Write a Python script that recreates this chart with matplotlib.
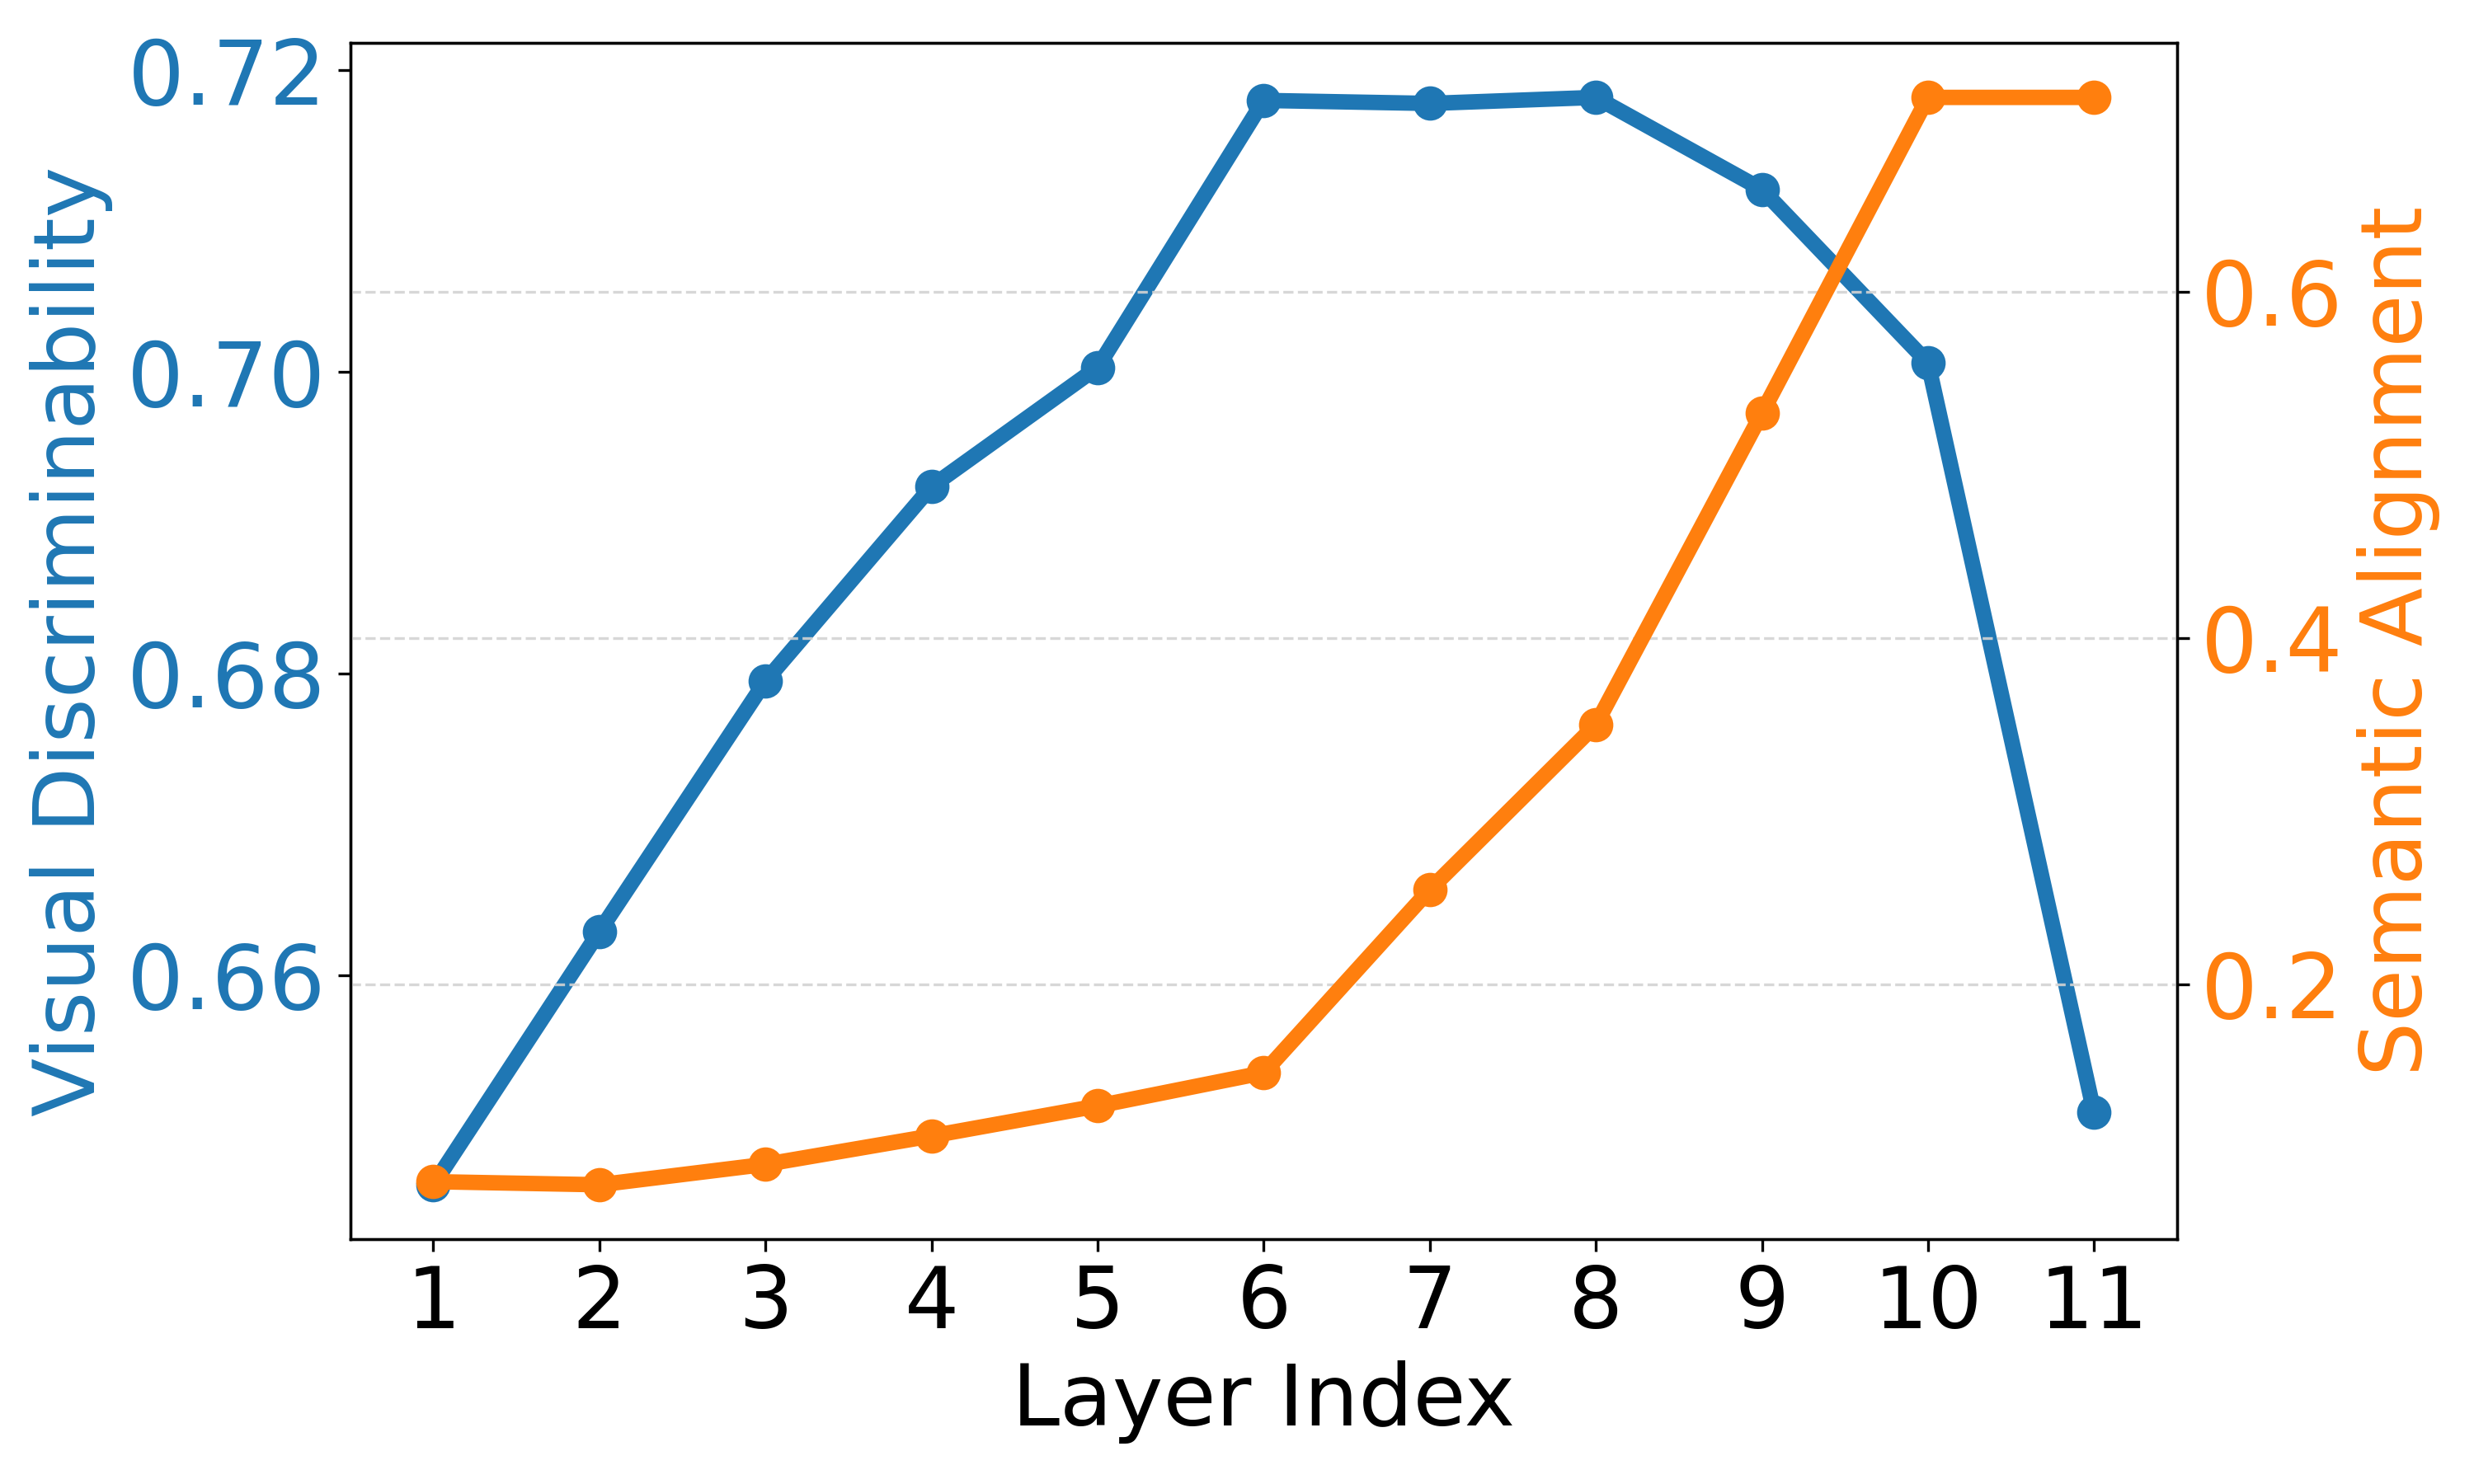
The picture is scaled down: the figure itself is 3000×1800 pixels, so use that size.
import matplotlib
matplotlib.use('Agg')
import matplotlib.pyplot as plt

layers = [1, 2, 3, 4, 5, 6, 7, 8, 9, 10, 11]
visual_disc = [0.6461, 0.6629, 0.6795, 0.6924, 0.7003, 0.7180, 0.7178, 0.7182, 0.7121, 0.7006, 0.6509]
semantic_align = [0.0861, 0.0843, 0.0961, 0.1125, 0.1298, 0.1490, 0.2547, 0.3499, 0.5298, 0.7121, 0.7121]

blue = '#1f77b4'
orange = '#ff7f0e'

fig, ax1 = plt.subplots(figsize=(10, 6), dpi=300)
fig.subplots_adjust(left=0.1416, right=0.880, top=0.971, bottom=0.165)

ax1.plot(layers, visual_disc, color=blue, marker='o', linewidth=4.5, markersize=9)
ax1.set_xlabel('Layer Index', fontsize=25)
ax1.set_ylabel('Visual Discriminability', color=blue, fontsize=25)
ax1.tick_params(axis='y', labelcolor=blue, labelsize=26)
ax1.tick_params(axis='x', labelsize=25)
ax1.set_xticks(layers)
ax1.set_yticks([0.66, 0.68, 0.70, 0.72])

ax2 = ax1.twinx()
ax2.plot(layers, semantic_align, color=orange, marker='o', linewidth=4.5, markersize=9)
ax2.set_ylabel('Semantic Alignment', color=orange, fontsize=25)
ax2.tick_params(axis='y', labelcolor=orange, labelsize=26)
ax2.set_yticks([0.2, 0.4, 0.6])
ax2.grid(True, axis='y', linestyle='--', color='lightgray', alpha=0.9, linewidth=0.8)

plt.savefig('out.png', dpi=300)
